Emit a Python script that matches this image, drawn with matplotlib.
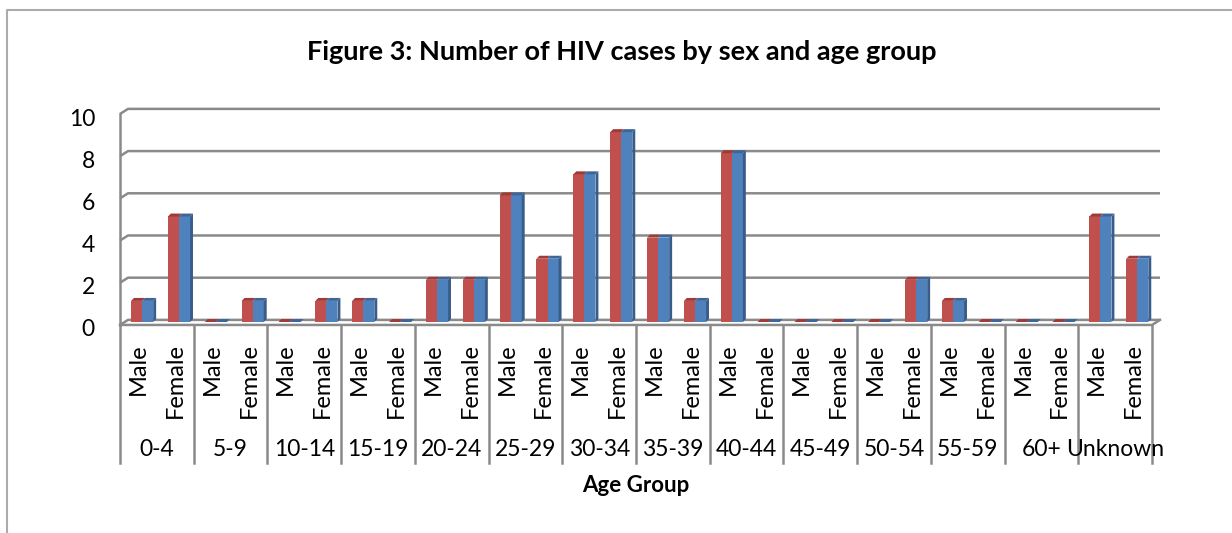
import matplotlib
matplotlib.use("Agg")
import matplotlib.pyplot as plt
from matplotlib.patches import Polygon, Rectangle
from matplotlib.lines import Line2D
from matplotlib.transforms import blended_transform_factory, ScaledTranslation

# ---- data ----
age_groups = ["0-4", "5-9", "10-14", "15-19", "20-24", "25-29", "30-34",
              "35-39", "40-44", "45-49", "50-54", "55-59", "60+", "Unknown"]
sexes = ["Male", "Female"]
male = [1, 0, 0, 1, 2, 6, 7, 4, 8, 0, 0, 1, 0, 5]
female = [5, 1, 1, 0, 2, 3, 9, 1, 0, 0, 2, 0, 0, 3]
y_ticks = [0, 2, 4, 6, 8, 10]
title = "Figure 3: Number of HIV cases by sex and age group"
x_title = "Age Group"

FONT = "Lato"
W, H = 1232, 533
fig = plt.figure(figsize=(W / 100, H / 100), dpi=100)
fig.patch.set_facecolor("white")


def fx(px):
    return px / W


def fy(py):
    return 1 - py / H


ax = fig.add_axes([fx(120), fy(322), fx(1152) - fx(120), fy(111) - fy(322)])
n_slots = 2 * len(age_groups)
ax.set_xlim(0, n_slots)
ax.set_ylim(0, 10)
for s in ax.spines.values():
    s.set_visible(False)
ax.set_facecolor("none")
ax.set_xticks([])
ax.set_yticks(y_ticks)
ax.set_yticklabels([str(t) for t in y_ticks], fontfamily=FONT, fontsize=16.5)
ax.tick_params(axis="y", length=0, pad=18)
shift = ScaledTranslation(0, -6 / 100, fig.dpi_scale_trans)
for lab in ax.get_yticklabels():
    lab.set_transform(lab.get_transform() + shift)

GRID = "#8a8a8a"
DX = 0.217      # depth offset (x, data units)
FRONT = -0.14   # front plane y offset
BACK = 0.10     # back plane y offset

# back wall gridlines with left wall diagonals
for v in y_ticks:
    ax.plot([0, DX, n_slots + DX], [v + FRONT, v + BACK, v + BACK],
            color=GRID, lw=1.8, clip_on=False, zorder=1, solid_capstyle="butt")
# left wall front edge
ax.plot([0, 0], [FRONT, 10 + FRONT], color=GRID, lw=1.8, clip_on=False, zorder=1)
# floor front edge and right diagonal
ax.plot([0, n_slots, n_slots + DX], [FRONT, FRONT, BACK],
        color=GRID, lw=1.8, clip_on=False, zorder=4)

# category dividers
div_bottom = (322 - 463) / 21.1
for g in range(len(age_groups) + 1):
    ax.plot([2 * g, 2 * g], [FRONT, div_bottom], color=GRID, lw=1.8,
            clip_on=False, zorder=1)

RED = "#C0504D"
BLUE = "#4F81BD"
SIDE = "#385D8A"
RED_TOP = "#9E3B38"
BLUE_TOP = "#3C6699"
SDX = 0.08
SDY = 0.14

values = []
for m, f in zip(male, female):
    values += [m, f]

for k, val in enumerate(values):
    left = k + 0.30
    hw = 0.30
    ax.add_patch(Rectangle((left, 0), hw, val, facecolor=RED, edgecolor="none", zorder=3))
    ax.add_patch(Rectangle((left + hw, 0), hw, val, facecolor=BLUE, edgecolor="none", zorder=3))
    r = left + 2 * hw
    ax.add_patch(Polygon([(r, 0), (r + SDX, SDY), (r + SDX, val + SDY), (r, val)],
                         closed=True, facecolor=SIDE, edgecolor="none", zorder=3))
    ax.add_patch(Polygon([(left, val), (left + hw, val), (left + hw + SDX, val + SDY),
                          (left + SDX, val + SDY)], closed=True, facecolor=RED_TOP,
                         edgecolor="none", zorder=3))
    ax.add_patch(Polygon([(left + hw, val), (r, val), (r + SDX, val + SDY),
                          (left + hw + SDX, val + SDY)], closed=True, facecolor=BLUE_TOP,
                         edgecolor="none", zorder=3))

trans = blended_transform_factory(ax.transData, fig.transFigure)
for k in range(n_slots):
    ax.text(k + 0.5, fy(343), sexes[k % 2], rotation=90, ha="center", va="top",
            transform=trans, fontfamily=FONT, fontsize=17, color="black")
for g, name in enumerate(age_groups):
    ax.text(2 * g + 1, fy(449), name, ha="center", va="center",
            transform=trans, fontfamily=FONT, fontsize=16.5, color="black")

fig.text(fx(636), fy(486), x_title, ha="center", va="center",
         fontfamily=FONT, fontweight="bold", fontsize=16)
fig.text(fx(622), fy(52), title, ha="center", va="center",
         fontfamily=FONT, fontweight="bold", fontsize=19.5)

# outer chart frame (partially visible)
fig.add_artist(Line2D([fx(7), fx(7), 1.0], [0.0, fy(10), fy(10)],
                      transform=fig.transFigure, color="#ababab", lw=1.5))

fig.savefig("out.png", dpi=100)
